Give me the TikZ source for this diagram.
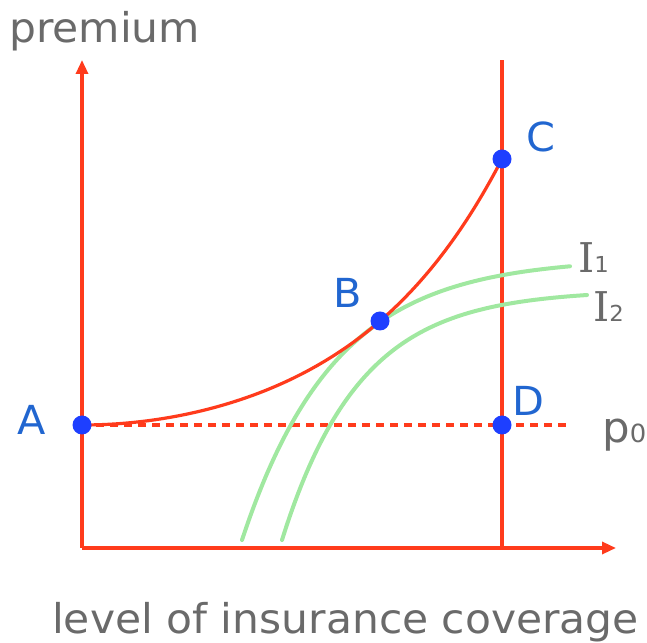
\documentclass[tikz,border=0pt]{standalone}
\usepackage{fontspec}
\setmainfont[FakeStretch=1.035]{DejaVu Sans}
\newfontfamily\serifI{DejaVu Serif}
\usetikzlibrary{arrows.meta}
\definecolor{axred}{HTML}{FF3B1C}
\definecolor{dotblue}{HTML}{1E3FFF}
\definecolor{lblblue}{HTML}{2166D0}
\definecolor{txtgrey}{HTML}{6A6A6A}
\definecolor{indiff}{HTML}{A0E8A0}
\tikzset{
  redline/.style={draw=axred, line width=3.2pt},
  axisarrow/.style={redline, -{Triangle[length=14pt,width=12pt]}},
  greencurve/.style={draw=indiff, line width=4pt, line cap=round},
  dotpt/.style={circle, fill=dotblue, inner sep=0pt, minimum size=19pt},
  ptlabel/.style={text=lblblue, font=\fontsize{40}{48}\selectfont, inner sep=0pt},
  axlabel/.style={text=txtgrey, font=\fontsize{41}{48}\selectfont, inner sep=0pt},
  curvelabel/.style={text=txtgrey, inner sep=0pt}
}
\begin{document}
\begin{tikzpicture}[x=1pt,y=1pt]
\useasboundingbox (0,0) rectangle (647,642);
% coordinates
\coordinate (O) at (82,94);
\coordinate (ytop) at (82,582);
\coordinate (xend) at (616,94);
\coordinate (vbot) at (502,94);
\coordinate (vtop) at (502,582);
\coordinate (dashend) at (570,217);
% axes
\draw[axisarrow] (O) -- (ytop);
\draw[axisarrow] (O) -- (xend);
\draw[redline] (vbot) -- (vtop);
% dashed p0 line
\draw[redline, dash pattern=on 8pt off 6pt] (82,217) -- (dashend);
% indifference curves
\draw[greencurve] plot[domain=242:570, samples=80, smooth] (\x,{384-282*exp(-0.01074*(\x-242))});
\draw[greencurve] plot[domain=282:587, samples=80, smooth] (\x,{352-250*exp(-0.0128*(\x-282))});
% premium curve
\draw[redline] plot[domain=0:1, samples=80, smooth] ({82+420*\x},{217+173.3*\x*\x+92.7*\x^5});
% points
\node[dotpt] (A) at (82,217) {};
\node[dotpt] (B) at (380,321) {};
\node[dotpt] (C) at (502,483) {};
\node[dotpt] (D) at (502,217) {};
% point labels
\node[ptlabel] (lA) at (32,222) {A};
\node[ptlabel] (lB) at (348,349) {B};
\node[ptlabel] (lC) at (541,505) {C};
\node[ptlabel] (lD) at (528,241) {D};
% curve labels
\node[curvelabel, anchor=base west] (lI1) at (578,369) {{\serifI\fontsize{41}{44}\selectfont I}{\fontsize{22}{24}\selectfont 1}};
\node[curvelabel, anchor=base west] (lI2) at (593,320) {{\serifI\fontsize{41}{44}\selectfont I}{\fontsize{22}{24}\selectfont 2}};
\node[curvelabel, anchor=base west] (lp0) at (602,199) {{\fontsize{42}{44}\selectfont p}{\fontsize{25}{26}\selectfont 0}};
% axis labels
\node[axlabel, anchor=base west] (ylab) at (9,599) {premium};
\node[axlabel, anchor=base west] (xlab) at (52,9) {level of insurance coverage};
\end{tikzpicture}
\end{document}
